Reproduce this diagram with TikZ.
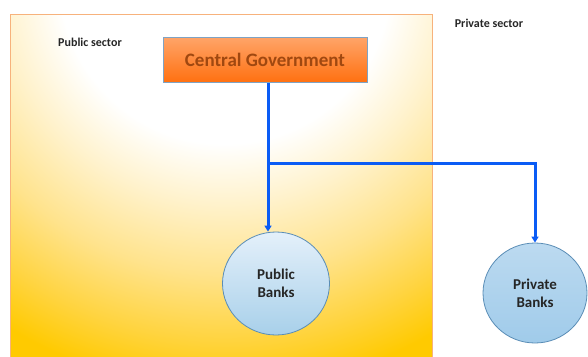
\documentclass[tikz,border=0pt]{standalone}
\usepackage{fontspec}
\setmainfont{Carlito}
\usetikzlibrary{shapes.geometric,arrows.meta}
\definecolor{gA}{HTML}{FFF2CC}
\definecolor{gB}{HTML}{FFE38C}
\definecolor{gC}{HTML}{FFD440}
\definecolor{gold}{HTML}{FFCA00}
\definecolor{cgTop}{HTML}{FFA468}
\definecolor{cgBot}{HTML}{FF7010}
\definecolor{cgText}{HTML}{A04810}
\definecolor{cgBorder}{HTML}{7FA3C4}
\definecolor{connBlue}{HTML}{0A5CF5}
\definecolor{bankBorder}{HTML}{5A8DB6}
\definecolor{pubTop}{HTML}{E4F0FA}
\definecolor{pubBot}{HTML}{A8D0EA}
\definecolor{privTop}{HTML}{BCDAF0}
\definecolor{privBot}{HTML}{A0CBEA}
\definecolor{sectBorder}{HTML}{F7B27C}
\pgfdeclareradialshading{sectorshade}{\pgfpoint{0bp}{0bp}}{%
  color(0bp)=(white); color(165bp)=(white); color(225bp)=(gA); color(295bp)=(gB); color(360bp)=(gC); color(410bp)=(gold); color(460bp)=(gold)}
\tikzset{
  conn/.style={draw=connBlue, line width=3pt},
  arr/.style={conn, -{Triangle[length=6pt,width=7pt]}},
  bank/.style={ellipse, draw=bankBorder, line width=0.8pt, font=\bfseries\fontsize{15}{18}\selectfont, align=center, text=black!85},
  sectlabel/.style={font=\bfseries\fontsize{12}{14}\selectfont, text=black!85}
}
\begin{document}
\begin{tikzpicture}[x=1pt,y=-1pt]
\useasboundingbox (0,0) rectangle (588,356);
\begin{scope}
  \clip (10,14) rectangle (432,362);
  \node[inner sep=0pt, outer sep=0pt] (shadebox) at (225,-22) {\pgfuseshading{sectorshade}};
\end{scope}
\draw[sectBorder, line width=1pt] (10,362) -- (10,14) -- (432,14) -- (432,362);
\node[sectlabel] (publab) at (90,42) {Public sector};
\node[sectlabel] (privlab) at (489,23) {Private sector};
\node[draw=cgBorder, line width=0.8pt, top color=cgTop, bottom color=cgBot, minimum width=204pt, minimum height=45pt, inner sep=0pt, text=cgText, font=\bfseries\fontsize{19}{22}\selectfont] (cg) at (265,60) {Central Government};
\node[bank, top color=pubTop, bottom color=pubBot, minimum width=107pt, minimum height=103pt] (pub) at (276,283.5) {Public\\Banks};
\node[bank, top color=privTop, bottom color=privBot, minimum width=104pt, minimum height=100pt] (priv) at (535,293) {Private\\Banks};
\coordinate (j) at (268,163);
\draw[arr] ([xshift=3pt]cg.south) -- ([xshift=3pt]cg.south |- pub.north);
\draw[arr] (j) -| (priv.north);
\end{tikzpicture}
\end{document}
